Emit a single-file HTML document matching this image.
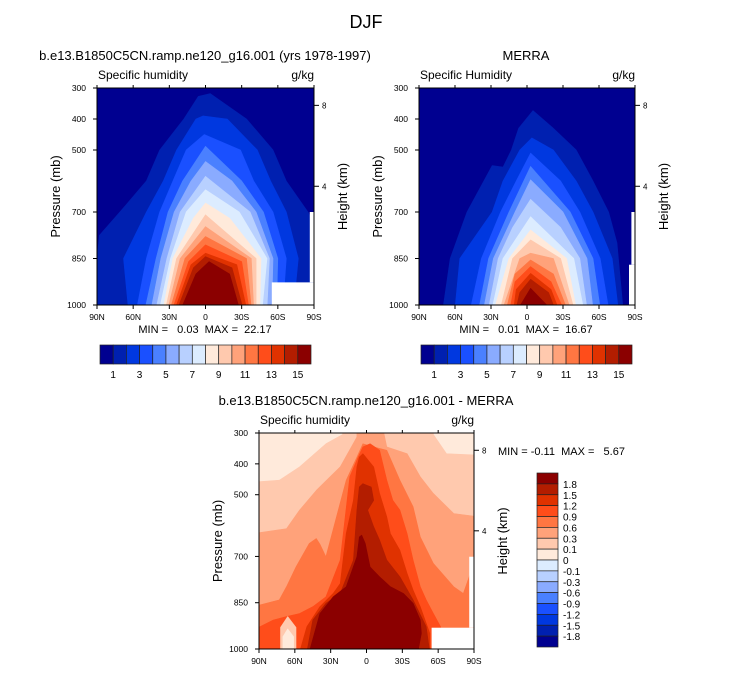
<!DOCTYPE html>
<html><head><meta charset="utf-8">
<style>
html,body{margin:0;padding:0;background:#fff;}
svg{display:block;font-family:"Liberation Sans",sans-serif;}
.pre{white-space:pre;}
</style></head>
<body>
<svg id="fig" width="733" height="673" viewBox="0 0 733 673" xmlns="http://www.w3.org/2000/svg">
<text x="366" y="28" font-size="18" text-anchor="middle">DJF</text>
<g id="p1"></g>
<g id="p2"></g>
<g id="p3"></g>
</svg>
<script>
// ---- shared data ----
const pressureTicks = [300, 400, 500, 700, 850, 1000];
const latTicks = [90, 60, 30, 0, -30, -60, -90];
const latTickLabels = ["90N", "60N", "30N", "0", "30S", "60S", "90S"];
const heightTicks = [8, 4];
const heightTickP = [356, 617];
const humidColors = ["#000090","#0020b0","#0038e0","#1a50ff","#4a80ff","#8aabff","#b8d0ff","#dcecff","#ffeadb","#ffc9ae","#ffa27a","#ff7642","#ff4d1a","#e03200","#b31d00","#8b0000"];
const humidBarLabels = ["1","","3","","5","","7","","9","","11","","13","","15"];
const diffBarLabels = ["1.8","1.5","1.2","0.9","0.6","0.3","0.1","0","-0.1","-0.3","-0.6","-0.9","-1.2","-1.5","-1.8"];

// ---- model panel contours ----
const modelLevels = [1,2,3,4,5,6,7,8,9,10,11,12,13,14,15];
const modelLat = [
 [95,90,88,71,49,38,18,6,-4,-34,-56,-67,-85,-95,-95],
 [64,68,49,35,24,8,2,-18,-43,-54,-67,-77,-73],
 [57,49,38,27,16,1,-29,-40,-56,-67,-64],
 [50,41,31,19,0,-30,-48,-60,-59],
 [45,37,26,12,0,-22,-42,-56,-55],
 [41,32,21,0,-37,-53,-51],
 [38,29,16,0,-28,-51,-47],
 [35,27,10,0,-20,-46,-45],
 [33,24,0,-42,-42],
 [31,21,0,-38,-40],
 [29,17,0,-34,-38],
 [27,14,0,-30,-36],
 [25,12,0,-26,-34],
 [23,10,0,-22,-31],
 [20,8,-3,-20,-28]
];
const modelP = [
 [1010,850,775,700,600,500,400,327,318,400,500,600,700,775,1010],
 [1010,850,700,600,500,400,390,400,500,600,700,850,1010],
 [1010,850,700,600,500,450,500,600,700,850,1010],
 [1010,850,700,600,488,600,700,850,1010],
 [1010,850,700,600,537,600,700,850,1010],
 [1010,850,700,585,700,850,1010],
 [1010,850,700,628,700,850,1010],
 [1010,850,720,671,720,850,1010],
 [1010,850,709,850,1010],
 [1010,850,747,850,1010],
 [1010,850,779,850,1010],
 [1010,860,806,860,1010],
 [1010,870,833,870,1010],
 [1010,880,844,880,1010],
 [1010,900,860,900,1010]
];
const modelMissingLat = [[-55,-95],[-86.5,-95]];
const modelMissingP = [[927,1010],[700,927]];

// ---- MERRA panel contours ----
const merraLevels = [1,2,3,4,5,6,7,8,9,10,11,12,13,14,15];
const merraLat = [
 [70,64,50,36,29,20,13,7,-5,-22,-41,-55,-68,-75,-80],
 [60,56,29,20,6,-4,-22,-41,-55,-71,-76],
 [47,38,22,9,-3,-28,-44,-61,-68],
 [40,32,15,-3,-36,-55,-61],
 [36,28,10,-3,-30,-50,-55],
 [32,24,12,-3,-28,-44,-50],
 [29,20,-3,-39,-47],
 [27,15,-3,-33,-41],
 [22,12,-3,-28,-39],
 [20,6,-3,-22,-36],
 [17,10,-3,-22,-33],
 [14,10,-3,-20,-30],
 [11,9,-3,-20,-26],
 [9,6,-3,-18,-23],
 [7,-3,-19]
];
const merraP = [
 [1010,850,700,600,550,555,500,430,373,430,500,600,700,800,1010],
 [1010,850,700,600,500,461,500,600,700,850,1010],
 [1010,850,700,600,510,600,700,850,1010],
 [1010,850,700,553,700,850,1010],
 [1010,850,700,596,700,850,1010],
 [1010,850,750,659,750,850,1010],
 [1010,850,715,850,1010],
 [1010,850,758,850,1010],
 [1010,850,790,850,1010],
 [1010,850,833,850,1010],
 [1010,900,855,900,1010],
 [1010,925,876,925,1010],
 [1010,950,898,950,1010],
 [1010,960,917,960,1010],
 [1010,946,1010]
];
const merraMissingLat = [[-85,-95],[-87,-95]];
const merraMissingP = [[870,1010],[700,870]];

// ---- difference panel contours ----
const diffLevels = [9,10,11,12,13,14,15];
const diffLat = [
 [95,95,73,56,34,20,20,-56,-56,-67,-95,-95],
 [95,95,67,56,42,22,8,8,-14,-17,-34,-45,-56,-73,-95,-95],
 [95,95,73,67,59,48,42,39,34,17,8,3,-6,-17,-28,-39,-45,-56,-73,-81,-87,-95,-95],
 [95,95,78,67,56,45,34,22,14,7,3,-3,-11,-17,-22,-28,-34,-39,-45,-50,-56,-62,-62],
 [56,50,39,28,22,17,11,8,6,3,-6,-11,-17,-20,-28,-34,-39,-45,-53,-53],
 [50,45,34,22,11,8,6,3,0,-4,-6,-1,-6,-11,-17,-28,-39,-50,-53],
 [48,39,28,17,8,6,4,1,-3,-11,-20,-31,-39,-45,-46,-43]
];
const diffP = [
 [1010,459,453,410,335,305,290,290,305,367,372,1010],
 [1010,626,610,550,486,410,313,290,290,345,367,442,496,561,572,1010],
 [1010,863,841,798,734,658,642,660,701,453,378,335,345,356,453,539,637,723,798,820,755,755,1010],
 [1010,939,906,895,885,863,831,712,442,378,345,335,356,453,518,550,626,712,798,841,885,928,1010],
 [1010,928,863,820,788,626,518,410,378,367,410,496,572,626,680,755,809,863,949,1010],
 [1010,906,852,820,712,550,475,464,469,475,518,550,604,647,712,766,841,928,1010],
 [1010,885,831,798,701,637,631,658,734,766,798,820,852,906,949,1010]
];
const diffBlobLat = [[72,72,66,59,59],[70,70,66,61,61]];
const diffBlobP = [[1010,930,895,930,1010],[1010,960,935,960,1010]];
const diffBlobLevels = [9,8];
const diffMissingLat = [[-54.5,-95],[-86,-95]];
const diffMissingP = [[931,1010],[701,931]];

const NS = "http://www.w3.org/2000/svg";
function mk(parent, tag, attrs) {
  const e = document.createElementNS(NS, tag);
  for (const k in attrs) e.setAttribute(k, attrs[k]);
  parent.appendChild(e);
  return e;
}

function drawPanel(g, id, box, o) {
  const xS = lat => box.x + (90 - lat) / 180 * box.w;
  const yS = p => box.y + (p - 300) / 700 * box.h;
  const clip = mk(g, "clipPath", {id: "clip" + id});
  mk(clip, "rect", {x: box.x, y: box.y, width: box.w, height: box.h});
  const plot = mk(g, "g", {"clip-path": "url(#clip" + id + ")"});
  
  
  const bg = mk(plot, "rect", {x: box.x, y: box.y, width: box.w, height: box.h, fill: o.colors[o.bgLevel]});
  
  
  const drawPolys = (lvls, lats, ps, nm) => {
    lvls.forEach((lv, i) => {
      const pts = lats[i].map((la, j) => xS(la).toFixed(1) + "," + yS(ps[i][j]).toFixed(1)).join(" ");
      const poly = mk(plot, "polygon", {points: pts, fill: o.colors[lv], stroke: o.colors[lv], "stroke-width": 0.6, "stroke-linejoin": "round"});
      
      
    });
  };
  drawPolys(o.levels, o.lat, o.p, 'contour-level');
  if (o.blobLevels) drawPolys(o.blobLevels, o.blobLat, o.blobP, 'contour-blob');
  o.missLat.forEach((lr, i) => {
    const x1 = xS(lr[0]), x2 = xS(lr[1]), y1 = yS(o.missP[i][0]), y2 = yS(o.missP[i][1]);
    const r = mk(plot, "rect", {x: x1, y: y1, width: x2 - x1, height: y2 - y1, fill: "#fff"});
    
    
  });
  const frame = mk(g, "rect", {x: box.x, y: box.y, width: box.w, height: box.h, fill: "none", stroke: "#000", "stroke-width": 1});
  
  
  pressureTicks.forEach(p => {
    const y = yS(p);
    mk(g, "line", {x1: box.x - 4, x2: box.x, y1: y, y2: y, stroke: "#000"});
    const t = mk(g, "text", {x: box.x - 11, y: y + 3, "font-size": 8.5, "text-anchor": "end"});
    t.textContent = p;
    
    
  });
  latTicks.forEach((la, i) => {
    const x = xS(la);
    mk(g, "line", {x1: x, x2: x, y1: box.y + box.h, y2: box.y + box.h + 4, stroke: "#000"});
    mk(g, "line", {x1: x, x2: x, y1: box.y, y2: box.y - 3, stroke: "#000"});
    const t = mk(g, "text", {x: x, y: box.y + box.h + 15, "font-size": 8.5, "text-anchor": "middle"});
    t.textContent = latTickLabels[i];
    
    
  });
  heightTicks.forEach((h, i) => {
    const y = yS(heightTickP[i]);
    mk(g, "line", {x1: box.x + box.w, x2: box.x + box.w + 5, y1: y, y2: y, stroke: "#000"});
    const t = mk(g, "text", {x: box.x + box.w + 8, y: y + 3, "font-size": 8});
    t.textContent = h;
    
    
  });
  const cy = box.y + box.h / 2;
  const yl = mk(g, "text", {x: 0, y: 0, "font-size": 13, "text-anchor": "middle", transform: `translate(${box.x - 37},${cy}) rotate(-90)`});
  yl.textContent = "Pressure (mb)";
  
  
  const hl = mk(g, "text", {x: 0, y: 0, "font-size": 13, "text-anchor": "middle", transform: `translate(${box.x + box.w + 33},${cy}) rotate(-90)`});
  hl.textContent = "Height (km)";
  
  
  const lt = mk(g, "text", {x: box.x + 1, y: box.y - 9, "font-size": 12});
  lt.textContent = o.left;
  
  
  const rt = mk(g, "text", {x: box.x + box.w, y: box.y - 9, "font-size": 12, "text-anchor": "end"});
  rt.textContent = "g/kg";
  
  
  const tt = mk(g, "text", {x: o.titleX, y: box.y - 28, "font-size": 13, "text-anchor": "middle"});
  tt.textContent = o.title;
  
  
  const mm = mk(g, "text", {x: o.mmX, y: o.mmY, "font-size": 11, "text-anchor": o.mmAnchor, "class": "pre"});
  mm.textContent = o.mm;
  
  
}

function hBar(g, x, y, w, h) {
  const bw = w / 16;
  humidColors.forEach((c, i) => {
    const r = mk(g, "rect", {x: x + i * bw, y: y, width: bw, height: h, fill: c, stroke: "#222", "stroke-width": 0.7});
    
    
  });
  humidBarLabels.forEach((l, i) => {
    if (!l) return;
    const t = mk(g, "text", {x: x + (i + 1) * bw, y: y + h + 14, "font-size": 10, "text-anchor": "middle"});
    t.textContent = l;
    
    
  });
}

const p1 = document.getElementById("p1");
drawPanel(p1, 1, {x: 97, y: 88, w: 217, h: 217}, {colors: humidColors, bgLevel: 0, levels: modelLevels, lat: modelLat, p: modelP, missLat: modelMissingLat, missP: modelMissingP, left: "Specific humidity", title: "b.e13.B1850C5CN.ramp.ne120_g16.001 (yrs 1978-1997)", titleX: 205, mm: "MIN =   0.03  MAX =  22.17", mmX: 205, mmY: 333, mmAnchor: "middle"});
hBar(p1, 100, 345, 211, 19);

const p2 = document.getElementById("p2");
drawPanel(p2, 2, {x: 419, y: 88, w: 216, h: 217}, {colors: humidColors, bgLevel: 0, levels: merraLevels, lat: merraLat, p: merraP, missLat: merraMissingLat, missP: merraMissingP, left: "Specific Humidity", title: "MERRA", titleX: 526, mm: "MIN =   0.01  MAX =  16.67", mmX: 526, mmY: 333, mmAnchor: "middle"});
hBar(p2, 421, 345, 211, 19);

const p3 = document.getElementById("p3");
drawPanel(p3, 3, {x: 259, y: 433, w: 215, h: 216}, {colors: humidColors, bgLevel: 8, levels: diffLevels, lat: diffLat, p: diffP, blobLevels: diffBlobLevels, blobLat: diffBlobLat, blobP: diffBlobP, missLat: diffMissingLat, missP: diffMissingP, left: "Specific humidity", title: "b.e13.B1850C5CN.ramp.ne120_g16.001 - MERRA", titleX: 366, mm: "MIN = -0.11  MAX =   5.67", mmX: 498, mmY: 455, mmAnchor: "start"});
(function(){
  const x = 537, y = 473, w = 21, h = 174, bh = h / 16;
  for (let i = 0; i < 16; i++) {
    const r = mk(p3, "rect", {x: x, y: y + i * bh, width: w, height: bh, fill: humidColors[15 - i], stroke: "#222", "stroke-width": 0.7});
    
    
  }
  diffBarLabels.forEach((l, i) => {
    const t = mk(p3, "text", {x: x + w + 5, y: y + (i + 1) * bh + 4, "font-size": 10});
    t.textContent = l;
    
    
  });
})();
</script>
</body></html>
